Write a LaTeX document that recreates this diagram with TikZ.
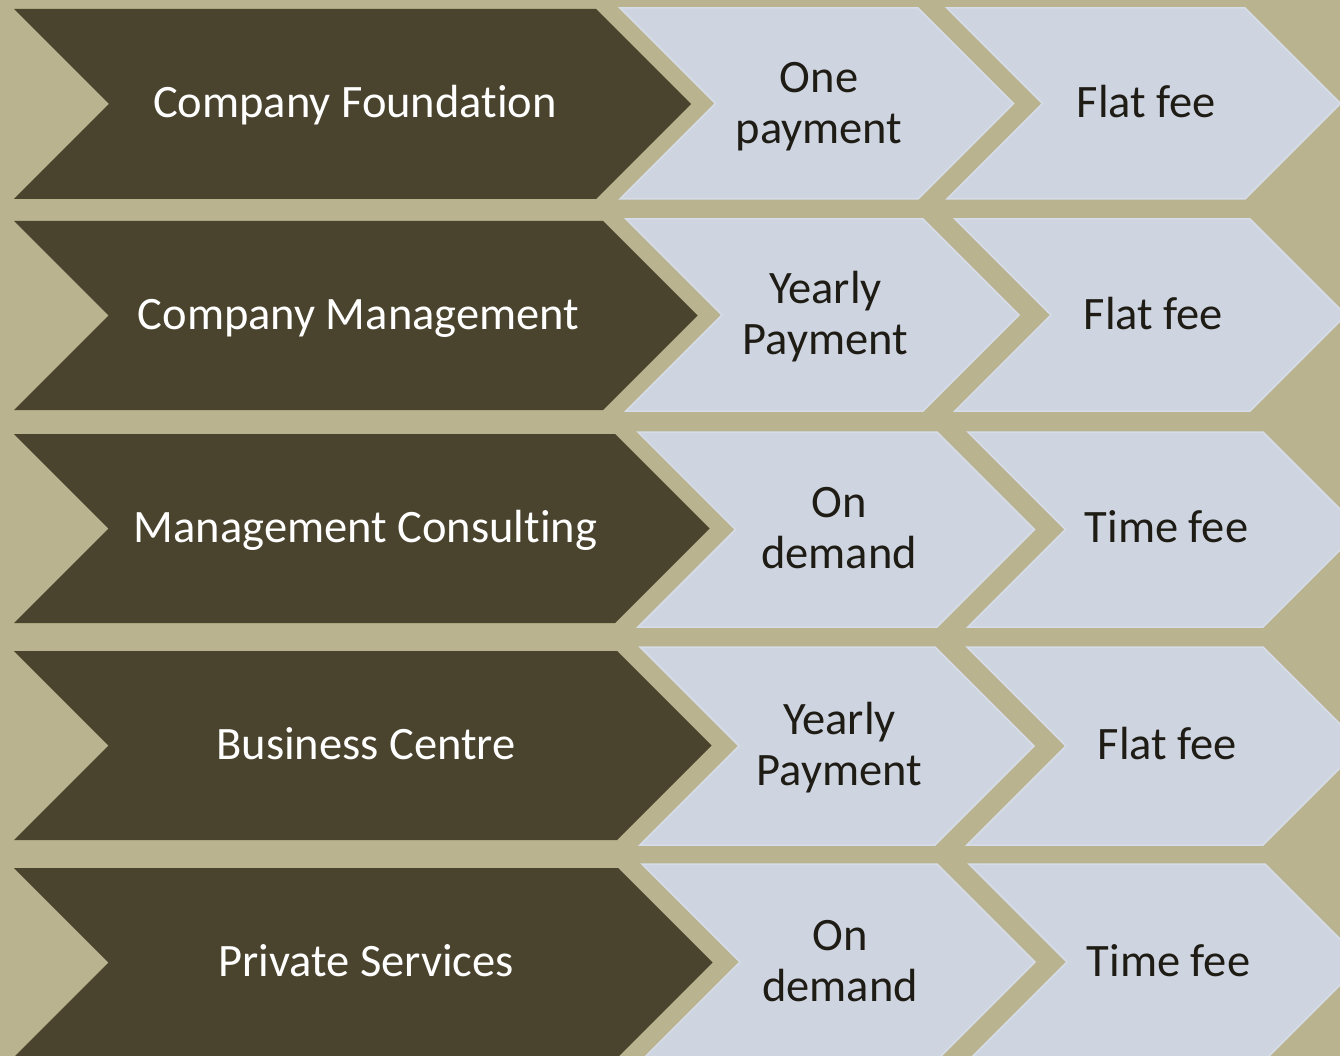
\documentclass[tikz,border=0pt]{standalone}
\usepackage{fontspec}
\setmainfont{Carlito}[Ligatures={NoCommon}]
\definecolor{bgc}{HTML}{B9B38F}
\definecolor{darkc}{HTML}{4A442E}
\definecolor{lightc}{HTML}{CED5E1}
\definecolor{lightedge}{HTML}{D6DCE8}
\definecolor{inkc}{HTML}{1E1C14}
\newcommand\lnstrut{\rule[-10pt]{0pt}{46pt}}
% dark chevron: top, bottom, right corner
\newcommand\darkchev[3]{%
  \fill[darkshape] (14,#1) -- (#3,#1) -- ({#3+(#2-#1)/2},{(#1+#2)/2}) -- (#3,#2)
    -- (14,#2) -- ({14+(#2-#1)/2},{(#1+#2)/2}) -- cycle;}
% light chevron: top, bottom, left corner, right corner
\newcommand\lightchev[4]{%
  \filldraw[lightshape] (#3,#1) -- (#4,#1) -- ({#4+(#2-#1)/2},{(#1+#2)/2}) -- (#4,#2)
    -- (#3,#2) -- ({#3+(#2-#1)/2},{(#1+#2)/2}) -- cycle;}
\begin{document}
\begin{tikzpicture}[x={(1pt,0)}, y={(0,-1pt)},
  darkshape/.style={fill=darkc},
  lightshape/.style={fill=lightc, draw=lightedge, line width=1.5pt, line join=miter},
  txt/.style={font=\fontsize{46.5}{51}\selectfont, align=center, inner sep=0pt},
  darktxt/.style={txt, text=white},
  lighttxt/.style={txt, text=inkc}]
\useasboundingbox (0,0) rectangle (1340,1056);
\clip (0,0) rectangle (1340,1056);
\fill[bgc] (0,0) rectangle (1340,1056);

% row 1
\darkchev{9}{199}{596}
\lightchev{8}{199}{620}{918}
\lightchev{8}{199}{947}{1245}
\node[darktxt]  (d1) at (355,105)   {\lnstrut Company Foundation};
\node[lighttxt] (a1) at (819,105)   {\lnstrut One\\\lnstrut payment};
\node[lighttxt] (b1) at (1146.5,105) {\lnstrut Flat fee};

% row 2
\darkchev{221}{410}{603}
\lightchev{219}{411}{626}{923}
\lightchev{219}{411}{955}{1250}
\node[darktxt]  (d2) at (358.5,316)  {\lnstrut Company Management};
\node[lighttxt] (a2) at (825.5,316)  {\lnstrut Yearly\\\lnstrut Payment};
\node[lighttxt] (b2) at (1153.5,316) {\lnstrut Flat fee};

% row 3
\darkchev{434}{623}{615}
\lightchev{432}{627}{638}{937}
\lightchev{432}{627}{968}{1263}
\node[darktxt]  (d3) at (365.5,529.5) {\lnstrut Management Consulting};
\node[lighttxt] (a3) at (839,529.5)   {\lnstrut On\\\lnstrut demand};
\node[lighttxt] (b3) at (1166.5,529.5) {\lnstrut Time fee};

% row 4
\darkchev{651}{840}{617}
\lightchev{647}{845}{640}{935}
\lightchev{647}{845}{967}{1263}
\node[darktxt]  (d4) at (366,746.5)   {\lnstrut Business Centre};
\node[lighttxt] (a4) at (839.5,746.5) {\lnstrut Yearly\\\lnstrut Payment};
\node[lighttxt] (b4) at (1167.5,746.5) {\lnstrut Flat fee};

% row 5
\darkchev{868}{1057}{618}
\lightchev{864}{1060}{642}{937}
\lightchev{864}{1060}{969}{1265}
\node[darktxt]  (d5) at (366,963)    {\lnstrut Private Services};
\node[lighttxt] (a5) at (840,963)    {\lnstrut On\\\lnstrut demand};
\node[lighttxt] (b5) at (1168.5,963) {\lnstrut Time fee};
\end{tikzpicture}
\end{document}
